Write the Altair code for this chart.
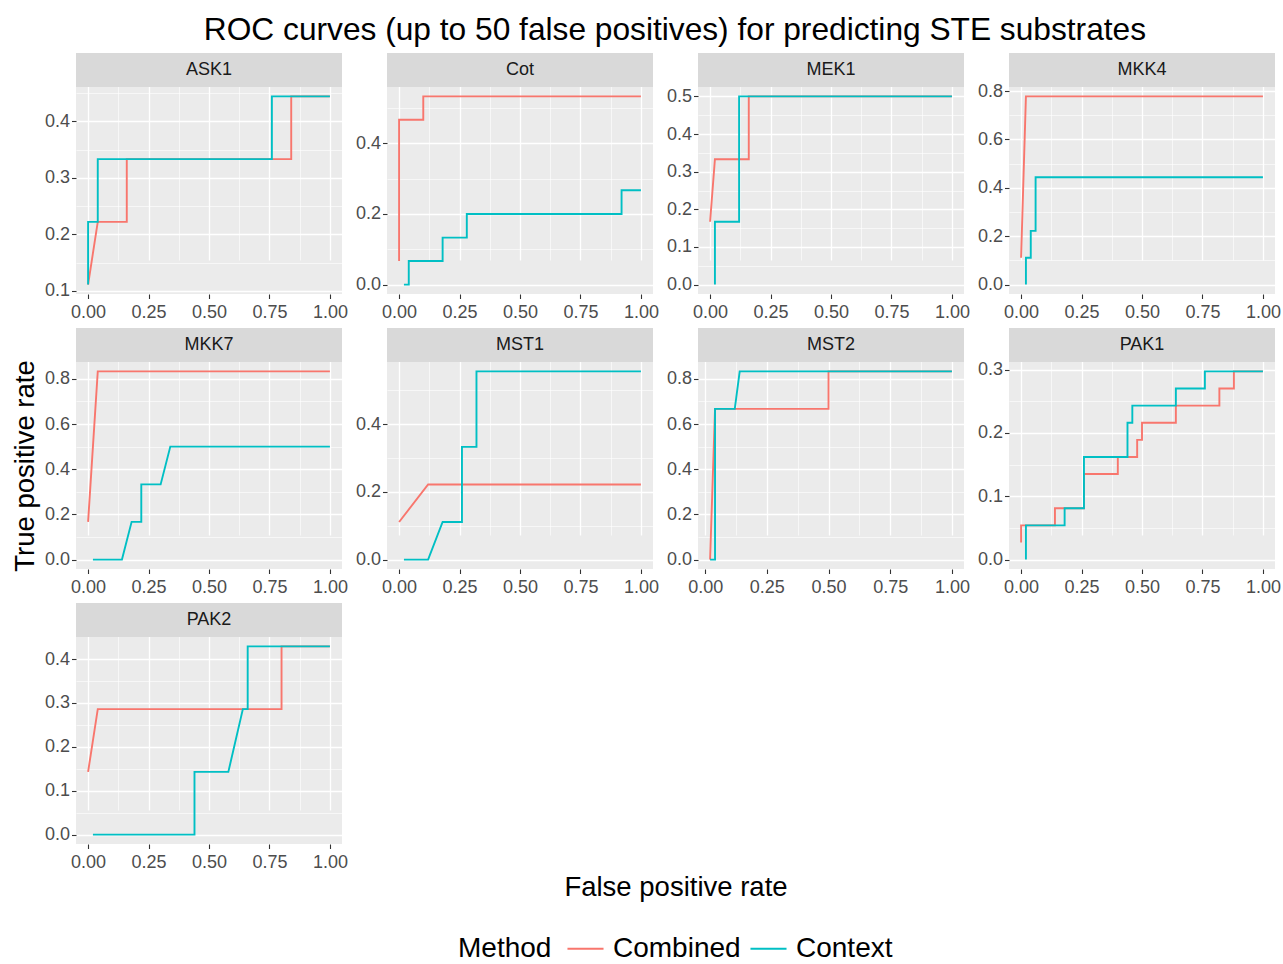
import altair as alt
import pandas as pd

FONT = "Liberation Sans"
TITLE = "ROC curves (up to 50 false positives) for predicting STE substrates"

METHODS = ["Combined", "Context"]
METHOD_COLORS = ["#F8766D", "#00BFC4"]

PANELS = ["ASK1", "Cot", "MEK1", "MKK4", "MKK7", "MST1", "MST2", "PAK1", "PAK2"]

# ROC vertices (false positive rate, true positive rate) for each kinase
ask1_comb_x = [0.00, 0.04, 0.16, 0.16, 0.84, 0.84, 1.00]
ask1_comb_y = [0.111, 0.222, 0.222, 0.333, 0.333, 0.444, 0.444]
ask1_ctx_x = [0.00, 0.00, 0.04, 0.04, 0.76, 0.76, 1.00]
ask1_ctx_y = [0.111, 0.222, 0.222, 0.333, 0.333, 0.444, 0.444]

cot_comb_x = [0.00, 0.00, 0.10, 0.10, 1.00]
cot_comb_y = [0.067, 0.467, 0.467, 0.533, 0.533]
cot_ctx_x = [0.02, 0.04, 0.04, 0.18, 0.18, 0.28, 0.28, 0.92, 0.92, 1.00]
cot_ctx_y = [0.000, 0.000, 0.067, 0.067, 0.133, 0.133, 0.200, 0.200, 0.267, 0.267]

mek1_comb_x = [0.00, 0.02, 0.16, 0.16, 1.00]
mek1_comb_y = [0.167, 0.333, 0.333, 0.500, 0.500]
mek1_ctx_x = [0.02, 0.02, 0.12, 0.12, 1.00]
mek1_ctx_y = [0.000, 0.167, 0.167, 0.500, 0.500]

mkk4_comb_x = [0.00, 0.02, 1.00]
mkk4_comb_y = [0.111, 0.778, 0.778]
mkk4_ctx_x = [0.02, 0.02, 0.04, 0.04, 0.06, 0.06, 1.00]
mkk4_ctx_y = [0.000, 0.111, 0.111, 0.222, 0.222, 0.444, 0.444]

mkk7_comb_x = [0.00, 0.04, 1.00]
mkk7_comb_y = [0.167, 0.833, 0.833]
mkk7_ctx_x = [0.02, 0.14, 0.18, 0.22, 0.22, 0.30, 0.34, 1.00]
mkk7_ctx_y = [0.000, 0.000, 0.167, 0.167, 0.333, 0.333, 0.500, 0.500]

mst1_comb_x = [0.00, 0.12, 1.00]
mst1_comb_y = [0.111, 0.222, 0.222]
mst1_ctx_x = [0.02, 0.12, 0.18, 0.26, 0.26, 0.32, 0.32, 1.00]
mst1_ctx_y = [0.000, 0.000, 0.111, 0.111, 0.333, 0.333, 0.556, 0.556]

mst2_comb_x = [0.02, 0.04, 0.50, 0.50, 1.00]
mst2_comb_y = [0.000, 0.667, 0.667, 0.833, 0.833]
mst2_ctx_x = [0.02, 0.04, 0.04, 0.12, 0.14, 1.00]
mst2_ctx_y = [0.000, 0.000, 0.667, 0.667, 0.833, 0.833]

pak1_comb_x = [0.00, 0.00, 0.14, 0.14, 0.26, 0.26, 0.40, 0.40, 0.48, 0.48,
               0.50, 0.50, 0.64, 0.64, 0.82, 0.82, 0.88, 0.88, 1.00]
pak1_comb_y = [0.027, 0.054, 0.054, 0.081, 0.081, 0.135, 0.135, 0.162, 0.162, 0.189,
               0.189, 0.216, 0.216, 0.243, 0.243, 0.270, 0.270, 0.297, 0.297]
pak1_ctx_x = [0.02, 0.02, 0.18, 0.18, 0.26, 0.26, 0.44, 0.44, 0.46, 0.46,
              0.64, 0.64, 0.76, 0.76, 1.00]
pak1_ctx_y = [0.000, 0.054, 0.054, 0.081, 0.081, 0.162, 0.162, 0.216, 0.216, 0.243,
              0.243, 0.270, 0.270, 0.297, 0.297]

pak2_comb_x = [0.00, 0.04, 0.80, 0.80, 1.00]
pak2_comb_y = [0.143, 0.286, 0.286, 0.429, 0.429]
pak2_ctx_x = [0.02, 0.44, 0.44, 0.58, 0.64, 0.66, 0.66, 1.00]
pak2_ctx_y = [0.000, 0.000, 0.143, 0.143, 0.286, 0.286, 0.429, 0.429]

CURVES = {
    "ASK1": (ask1_comb_x, ask1_comb_y, ask1_ctx_x, ask1_ctx_y),
    "Cot": (cot_comb_x, cot_comb_y, cot_ctx_x, cot_ctx_y),
    "MEK1": (mek1_comb_x, mek1_comb_y, mek1_ctx_x, mek1_ctx_y),
    "MKK4": (mkk4_comb_x, mkk4_comb_y, mkk4_ctx_x, mkk4_ctx_y),
    "MKK7": (mkk7_comb_x, mkk7_comb_y, mkk7_ctx_x, mkk7_ctx_y),
    "MST1": (mst1_comb_x, mst1_comb_y, mst1_ctx_x, mst1_ctx_y),
    "MST2": (mst2_comb_x, mst2_comb_y, mst2_ctx_x, mst2_ctx_y),
    "PAK1": (pak1_comb_x, pak1_comb_y, pak1_ctx_x, pak1_ctx_y),
    "PAK2": (pak2_comb_x, pak2_comb_y, pak2_ctx_x, pak2_ctx_y),
}

# tick values per panel (major labelled, minor grid only)
X_MAJOR = [0.0, 0.25, 0.5, 0.75, 1.0]
X_MINOR = [0.125, 0.375, 0.625, 0.875]
Y_MAJOR = {
    "ASK1": [0.1, 0.2, 0.3, 0.4],
    "Cot": [0.0, 0.2, 0.4],
    "MEK1": [0.0, 0.1, 0.2, 0.3, 0.4, 0.5],
    "MKK4": [0.0, 0.2, 0.4, 0.6, 0.8],
    "MKK7": [0.0, 0.2, 0.4, 0.6, 0.8],
    "MST1": [0.0, 0.2, 0.4],
    "MST2": [0.0, 0.2, 0.4, 0.6, 0.8],
    "PAK1": [0.0, 0.1, 0.2, 0.3],
    "PAK2": [0.0, 0.1, 0.2, 0.3, 0.4],
}
Y_MINOR = {
    "ASK1": [0.15, 0.25, 0.35, 0.45],
    "Cot": [0.1, 0.3, 0.5],
    "MEK1": [0.05, 0.15, 0.25, 0.35, 0.45],
    "MKK4": [0.1, 0.3, 0.5, 0.7],
    "MKK7": [0.1, 0.3, 0.5, 0.7],
    "MST1": [0.1, 0.3, 0.5],
    "MST2": [0.1, 0.3, 0.5, 0.7],
    "PAK1": [0.05, 0.15, 0.25],
    "PAK2": [0.05, 0.15, 0.25, 0.35],
}

PANEL_W = 266
PANEL_H = 207
STRIP_H = 34
TICK_FONT = 18
AXIS_TITLE_FONT = 27.5
LEGEND_FONT = 28


def padded(values):
    lo, hi = min(values), max(values)
    pad = 0.05 * (hi - lo)
    return [lo - pad, hi + pad]


def cell(name):
    cx, cy, tx, ty = CURVES[name]
    rows = []
    for method, xs, ys in (("Combined", cx, cy), ("Context", tx, ty)):
        for i, (x, y) in enumerate(zip(xs, ys)):
            rows.append({"fpr": x, "tpr": y, "Method": method, "step": i})
    df = pd.DataFrame(rows)

    xdom = padded(df["fpr"])
    xscale = alt.Scale(domain=xdom, nice=False, zero=False)
    # the plotting region sits below the strip band at the top of the cell
    yscale = alt.Scale(domain=padded(df["tpr"]), nice=False, zero=False,
                       range=[PANEL_H + STRIP_H, STRIP_H])

    grid_common = dict(grid=True, gridColor="white", labels=False, ticks=False,
                       domain=False, title=None)
    minor = alt.Chart(df).mark_line(opacity=0).encode(
        x=alt.X("fpr:Q", scale=xscale,
                axis=alt.Axis(values=X_MINOR, orient="bottom", gridWidth=0.6, **grid_common)),
        y=alt.Y("tpr:Q", scale=yscale,
                axis=alt.Axis(values=Y_MINOR[name], orient="left", gridWidth=0.6, **grid_common)),
    )

    major_common = dict(grid=True, gridColor="white", gridWidth=1.3, domain=False,
                        tickColor="#333333", tickSize=4.5, tickWidth=1.1,
                        labelColor="#4D4D4D", labelFontSize=TICK_FONT, labelFont=FONT,
                        titleFont=FONT, titleFontSize=AXIS_TITLE_FONT,
                        titleFontWeight="normal", titleColor="black")
    xaxis_kw = dict(values=X_MAJOR, format=".2f", orient="bottom", labelPadding=5,
                    labelFlush=False, **major_common)
    yaxis_kw = dict(values=Y_MAJOR[name], format=".1f", orient="left", labelPadding=2,
                    labelFlush=False, **major_common)
    if name == "PAK2":
        xaxis_kw.update(title="False positive rate", titleX=599.5, titleY=43,
                        titleBaseline="middle", titleAlign="center")
    else:
        xaxis_kw["title"] = None
    if name == "MKK7":
        yaxis_kw.update(title="True positive rate", titlePadding=5)
    else:
        yaxis_kw["title"] = None

    lines = alt.Chart(df).mark_line(strokeWidth=1.9).encode(
        x=alt.X("fpr:Q", scale=xscale, axis=alt.Axis(**xaxis_kw)),
        y=alt.Y("tpr:Q", scale=yscale, axis=alt.Axis(**yaxis_kw)),
        color=alt.Color(
            "Method:N",
            scale=alt.Scale(domain=METHODS, range=METHOD_COLORS),
            legend=alt.Legend(
                orient="none", direction="horizontal", legendX=382, legendY=876,
                title="Method", titleOrient="left", titleAnchor="middle",
                titleBaseline="line-top", titleLineHeight=6,
                titleFontSize=LEGEND_FONT,
                titleFontWeight="normal", titleColor="black", titleFont=FONT,
                titlePadding=14, labelFontSize=LEGEND_FONT, labelColor="black",
                labelFont=FONT, symbolType="stroke", symbolSize=1300,
                symbolStrokeWidth=2, labelOffset=8, columnPadding=5,
            ),
        ),
        detail="Method:N",
        order="step:Q",
    )

    # grey strip band carrying the kinase name
    label_df = pd.DataFrame({"panel": [name], "mid": [(xdom[0] + xdom[1]) / 2]})
    strip_band = alt.Chart(label_df).mark_rect(color="#D9D9D9").encode(
        x=alt.value(0), x2=alt.value("width"), y=alt.value(0), y2=alt.value(STRIP_H)
    )
    strip_text = alt.Chart(label_df).mark_text(
        fontSize=TICK_FONT, color="#1A1A1A", font=FONT, baseline="middle"
    ).encode(
        x=alt.X("mid:Q", scale=xscale, axis=None),
        y=alt.value(STRIP_H / 2),
        text="panel:N",
    )

    return (
        alt.layer(minor, lines, strip_band, strip_text)
        .resolve_axis(x="independent", y="independent")
        .properties(width=PANEL_W, height=PANEL_H + STRIP_H,
                    view=alt.ViewBackground(fill="#EBEBEB", strokeWidth=0))
    )


chart = (
    alt.concat(*[cell(n) for n in PANELS], columns=4,
               spacing={"row": 34, "column": 45}, bounds="flush")
    .properties(
        title=alt.TitleParams(TITLE, fontSize=31.7, font=FONT, fontWeight="normal",
                              color="black", anchor="middle", offset=6, dx=29),
        padding={"left": 11, "top": 15, "right": 0, "bottom": 0},
        background="white",
    )
    .configure(font=FONT)
    .configure_view(strokeWidth=0)
)

chart.save("out.html", embed_options={"renderer": "svg", "actions": False})
